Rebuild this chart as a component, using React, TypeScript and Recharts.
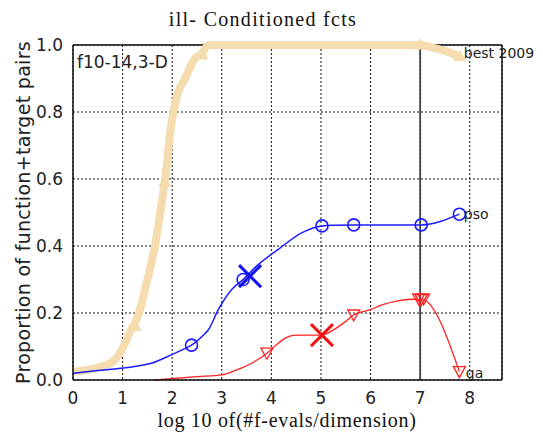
import {
  CartesianGrid,
  ComposedChart,
  Line,
  ReferenceLine,
  Scatter,
  XAxis,
  YAxis,
} from "recharts";

// best 2009 (thick tan band)
const bestX = [0, 0.3, 0.57, 0.8, 0.9, 1.05, 1.17, 1.25, 1.35, 1.5, 1.64, 1.8, 1.85, 1.97, 2.1, 2.26, 2.46, 2.6, 2.73, 3.5, 5, 7, 7.3, 7.55, 7.8];
const bestY = [0.025, 0.03, 0.04, 0.055, 0.07, 0.11, 0.15, 0.17, 0.21, 0.3, 0.39, 0.54, 0.59, 0.75, 0.85, 0.9, 0.96, 0.975, 1.0, 1.0, 1.0, 1.0, 0.99, 0.98, 0.965];
const bestMarkX = [1.25, 1.85, 2.6, 7.0, 7.8];
const bestMarkY = [0.16, 0.59, 0.97, 1.0, 0.965];

// pso (blue)
const psoX = [0, 0.5, 0.97, 1.3, 1.58, 1.98, 2.2, 2.39, 2.6, 2.73, 2.93, 3.2, 3.43, 3.7, 4.14, 4.62, 5.02, 5.3, 5.66, 6.5, 7.02, 7.79];
const psoY = [0.02, 0.028, 0.035, 0.042, 0.05, 0.075, 0.09, 0.104, 0.13, 0.15, 0.21, 0.27, 0.3, 0.34, 0.39, 0.44, 0.46, 0.462, 0.463, 0.463, 0.463, 0.495];
const psoMarkX = [2.39, 3.43, 5.02, 5.66, 7.02, 7.79];
const psoMarkY = [0.104, 0.3, 0.46, 0.463, 0.463, 0.495];

// ga (red)
const gaX = [1.65, 2.5, 3.0, 3.3, 3.6, 3.91, 4.1, 4.28, 4.45, 4.62, 5.02, 5.2, 5.36, 5.5, 5.66, 6.0, 6.23, 6.5, 6.84, 7.04, 7.79];
const gaY = [0, 0.01, 0.015, 0.03, 0.05, 0.08, 0.105, 0.125, 0.133, 0.134, 0.134, 0.145, 0.16, 0.175, 0.194, 0.21, 0.224, 0.235, 0.241, 0.24, 0.025];
const gaMarkX = [3.91, 5.66, 6.97, 7.02, 7.07, 7.79];
const gaMarkY = [0.08, 0.194, 0.242, 0.24, 0.242, 0.025];

// big crosses
const crossX = [3.57, 5.02];
const crossY = [0.31, 0.134];
const crossColor = ["#1010f0", "#f01010"];

// text labels inside the plot
const noteText = ["f10-14,3-D", "best 2009", "pso", "ga"];
const noteX = [0.08, 7.88, 7.88, 7.92];
const noteY = [0.95, 0.976, 0.495, 0.02];

const xTicks = [0, 1, 2, 3, 4, 5, 6, 7, 8];
const yTicks = [0, 0.2, 0.4, 0.6, 0.8, 1.0];

const pts = (xs: number[], ys: number[]) => xs.map((x, i) => ({ x, y: ys[i] }));

const bestData = pts(bestX, bestY);
const bestMarks = pts(bestMarkX, bestMarkY);
const psoData = pts(psoX, psoY);
const gaData = pts(gaX, gaY);
const psoMarks = pts(psoMarkX, psoMarkY);
const gaMarks = pts(gaMarkX, gaMarkY);
const crosses = crossX.map((x, i) => ({ x, y: crossY[i], color: crossColor[i] }));
const notes = noteX.map((x, i) => ({ x, y: noteY[i], text: noteText[i] }));

const sans = "DejaVu Sans";
const serif = "Liberation Serif";
const tan = "#f5dcae";

const Circle = (p: any) => (
  <circle cx={p.cx} cy={p.cy} r={6} fill="none" stroke="#1a1aff" strokeWidth={1.6} />
);

const Tri = (p: any) => (
  <path
    d={`M${p.cx - 6},${p.cy - 5} L${p.cx + 6},${p.cy - 5} L${p.cx},${p.cy + 6} Z`}
    fill="none"
    stroke="#ff2020"
    strokeWidth={1.3}
  />
);

const TanTri = (p: any) => (
  <path
    d={`M${p.cx - 6},${p.cy + 4} L${p.cx + 6},${p.cy + 4} L${p.cx},${p.cy - 6} Z`}
    fill={tan}
    stroke={tan}
    strokeWidth={1}
  />
);

const Cross = (p: any) => {
  const s = 11;
  return (
    <g stroke={p.payload.color} strokeWidth={3}>
      <line x1={p.cx - s} y1={p.cy - s} x2={p.cx + s} y2={p.cy + s} />
      <line x1={p.cx - s} y1={p.cy + s} x2={p.cx + s} y2={p.cy - s} />
    </g>
  );
};

const Note = (p: any) => {
  const first = p.payload.text === "f10-14,3-D";
  return (
    <text
      x={p.cx}
      y={p.cy}
      dy="0.35em"
      fontFamily={sans}
      fontSize={first ? 17 : 14}
      fill="#222"
      textAnchor="start"
    >
      {p.payload.text}
    </text>
  );
};

export default function App() {
  return (
    <div style={{ position: "absolute", left: 0, top: 0, width: 543, height: 437, background: "#fff" }}>
      <div
        style={{
          position: "absolute",
          top: 8,
          left: 0,
          width: 526,
          textAlign: "center",
          fontFamily: serif,
          fontSize: 20,
          letterSpacing: 1.3,
          color: "#111",
        }}
      >
        ill- Conditioned fcts
      </div>
      <div
        style={{
          position: "absolute",
          top: 409,
          left: 0,
          width: 574,
          textAlign: "center",
          fontFamily: serif,
          fontSize: 20,
          letterSpacing: 0.7,
          color: "#111",
        }}
      >
        log 10 of(#f-evals/dimension)
      </div>
      <ComposedChart
        width={543}
        height={437}
        margin={{ top: 45, right: 41, left: 13, bottom: 27 }}
        style={{ position: "absolute", left: 0, top: 0 }}
      >
        <CartesianGrid stroke="#111" strokeDasharray="2 2" strokeWidth={1} />
        <XAxis
          type="number"
          dataKey="x"
          domain={[0, 8.65]}
          ticks={xTicks}
          height={30}
          tickLine={false}
          tickMargin={6}
          axisLine={{ stroke: "#111", strokeWidth: 1.5 }}
          tick={{ fontFamily: sans, fontSize: 17, fill: "#222" }}
        />
        <YAxis
          type="number"
          dataKey="y"
          domain={[0, 1]}
          ticks={yTicks}
          width={60}
          tickLine={false}
          tickMargin={4}
          tickFormatter={(v: number) => v.toFixed(1)}
          axisLine={{ stroke: "#111", strokeWidth: 1.5 }}
          tick={{ fontFamily: sans, fontSize: 17, fill: "#222" }}
          label={{
            value: "Proportion of function+target pairs",
            angle: -90,
            position: "insideLeft",
            offset: 10,
            style: { fontFamily: sans, fontSize: 19, letterSpacing: 0.3, fill: "#222", textAnchor: "middle" },
          }}
        />
        <ReferenceLine y={1} stroke="#111" strokeWidth={1.5} />
        <ReferenceLine x={8.65} stroke="#111" strokeWidth={1.5} />
        <ReferenceLine x={7} stroke="#444" strokeWidth={1.8} />
        <Line
          data={bestData}
          dataKey="y"
          type="monotone"
          stroke={tan}
          strokeWidth={8}
          dot={false}
          isAnimationActive={false}
        />
        <Scatter data={bestMarks} dataKey="y" shape={TanTri} isAnimationActive={false} />
        <Line
          data={psoData}
          dataKey="y"
          type="monotone"
          stroke="#1a1aff"
          strokeWidth={1.5}
          dot={false}
          isAnimationActive={false}
        />
        <Line
          data={gaData}
          dataKey="y"
          type="monotone"
          stroke="#ff2020"
          strokeWidth={1.3}
          dot={false}
          isAnimationActive={false}
        />
        <Scatter data={psoMarks} dataKey="y" shape={Circle} isAnimationActive={false} />
        <Scatter data={gaMarks} dataKey="y" shape={Tri} isAnimationActive={false} />
        <Scatter data={crosses} dataKey="y" shape={Cross} isAnimationActive={false} />
        <Scatter data={notes} dataKey="y" shape={Note} isAnimationActive={false} />
      </ComposedChart>
    </div>
  );
}
